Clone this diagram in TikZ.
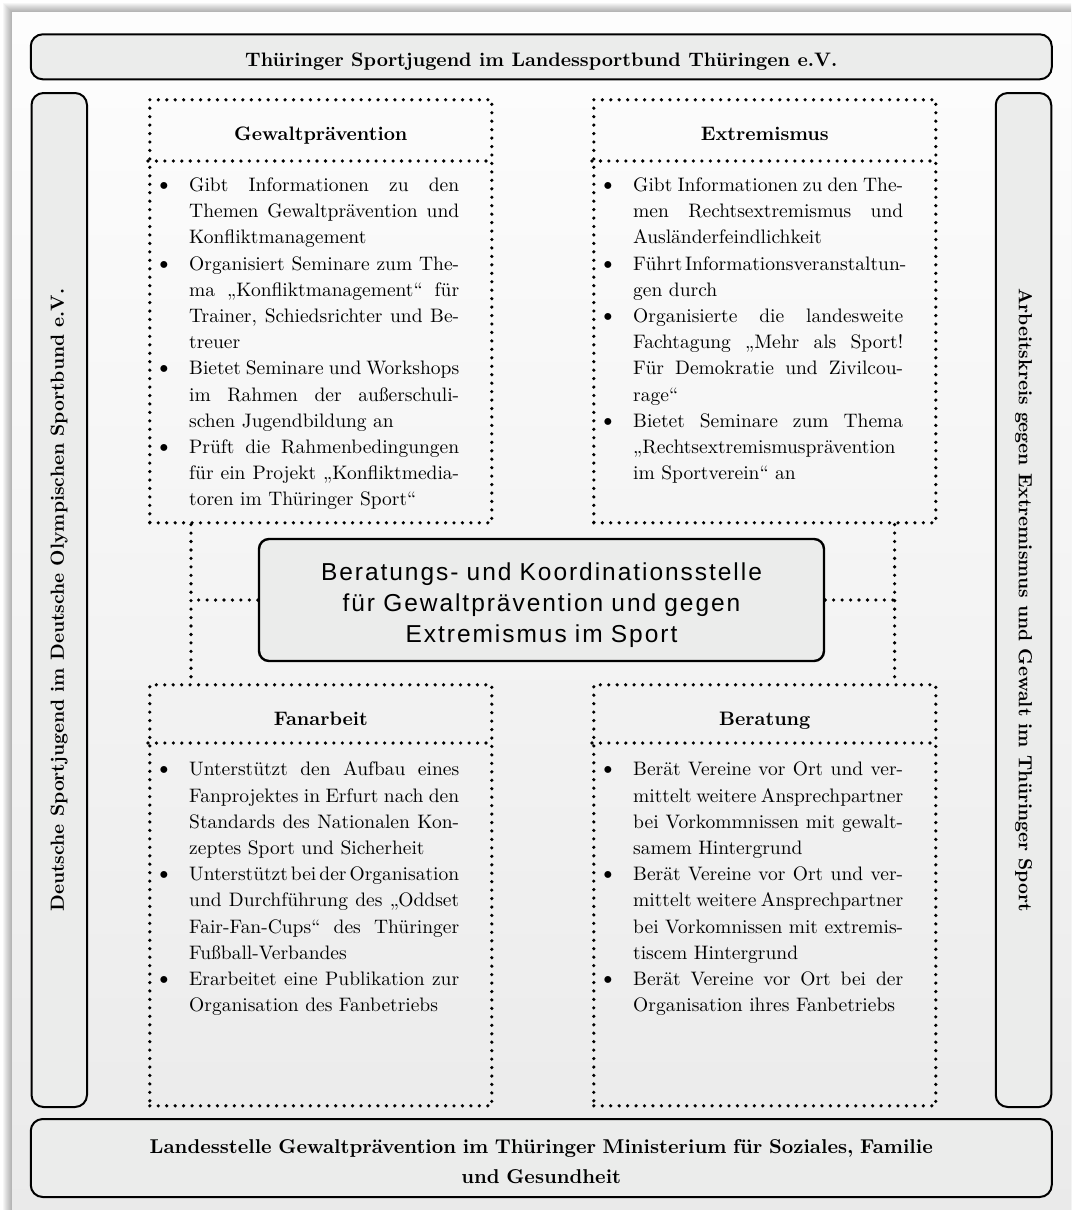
\documentclass[tikz,border=0pt]{standalone}
\usepackage{fontspec}
\setmainfont{lmroman10-regular.otf}[BoldFont=lmroman10-bold.otf, ItalicFont=lmroman10-italic.otf]
\newfontfamily\cboxfont[LetterSpace=8]{Liberation Sans}
\usetikzlibrary{calc}
\definecolor{boxfill}{RGB}{235,236,235}
\definecolor{paneltop}{RGB}{253,253,253}
\definecolor{panelbot}{RGB}{234,234,234}
\newcommand\jbox[1]{\hbox to 270pt{\spaceskip=.3333em plus 1fil minus .2em\relax #1}}
\newcommand\lnJ[1]{\noindent\strut\jbox{#1}\par}
\newcommand\lnL[1]{\noindent\strut\hbox to 270pt{#1\hfil}\par}
\newcommand\lnB[1]{\noindent\strut\makebox[0pt][r]{{\fontsize{24}{24}\selectfont\textbullet}\hspace{16pt}}\jbox{#1}\par}
\tikzset{
  bar/.style={draw, line width=2pt, rounded corners=12pt, fill=boxfill, inner sep=0pt},
  bartext/.style={font=\fontsize{19.5}{30}\selectfont\bfseries, inner sep=0pt},
  sidetext/.style={font=\fontsize{19}{23}\selectfont\bfseries, inner sep=0pt},
  dotline/.style={line width=3.6pt, dash pattern=on 0pt off 8.45pt, line cap=round},
  dotbox/.style={dotline, draw, inner sep=0pt, minimum width=342pt, anchor=north west},
  boxtitle/.style={font=\fontsize{19.5}{23}\selectfont\bfseries, inner sep=0pt, anchor=base},
  bodytext/.style={font=\fontsize{19.5}{26.2}\selectfont, text width=270pt, inner sep=0pt, anchor=north west},
  cbox/.style={draw, line width=2.4pt, rounded corners=10pt, fill=boxfill, minimum width=565pt, minimum height=122pt, inner sep=0pt},
  cboxtext/.style={font=\cboxfont\fontsize{24.5}{31}\selectfont, text width=560pt, align=center, inner sep=0pt, anchor=north}
}
\begin{document}
\begin{tikzpicture}[x=1pt,y=-1pt]
\clip (0,0) rectangle (1071,1210);
\fill[white] (0,0) rectangle (1071,1210);
\foreach \i in {1,...,9}{\fill[black,opacity=0.035] ({12-\i},{12-\i}) rectangle (1080,1220);}
\shade[top color=paneltop,bottom color=panelbot] (12,12) rectangle (1080,1220);

% outer bars
\node[bar, minimum width=1021pt, minimum height=45pt] (tbar) at (541.25,56.8) {};
\node[bartext, anchor=base] (tbart) at (541.25,66.7) {Thüringer Sportjugend im Landessportbund Thüringen e.V.};
\node[bar, minimum width=55.5pt, minimum height=1014pt] (lbar) at (59.25,600) {};
\node[sidetext, rotate=90] (lbart) at (lbar.center) {Deutsche Sportjugend im Deutsche Olympischen Sportbund e.V.};
\node[bar, minimum width=55.5pt, minimum height=1014pt] (rbar) at (1023.5,600) {};
\node[sidetext, rotate=-90] (rbart) at (rbar.center) {Arbeitskreis gegen Extremismus und Gewalt im Thüringer Sport};
\node[bar, minimum width=1021pt, minimum height=78pt] (bbar) at (541.25,1158) {};
\node[bartext, font=\fontsize{20}{30}\selectfont\bfseries, text width=1000pt, align=center, anchor=north] (bbart) at (541.25,1132.5) {\strut Landesstelle Gewaltprävention im Thüringer Ministerium für Soziales, Familie\\\strut und Gesundheit};

% dotted boxes
\node[dotbox, minimum height=423pt] (gew) at (148,98) {};
\node[dotbox, minimum height=423pt] (ext) at (592,98) {};
\node[dotbox, minimum height=421pt] (fan) at (148,683) {};
\node[dotbox, minimum height=421pt] (ber) at (592,683) {};
\draw[dotline] ($(gew.north west)+(0,63)$) -- ($(gew.north east)+(0,63)$);
\draw[dotline] ($(ext.north west)+(0,63)$) -- ($(ext.north east)+(0,63)$);
\draw[dotline] ($(fan.north west)+(0,60)$) -- ($(fan.north east)+(0,60)$);
\draw[dotline] ($(ber.north west)+(0,60)$) -- ($(ber.north east)+(0,60)$);

\node[boxtitle] (gewt) at ($(gew.north)+(0,42)$) {Gewaltprävention};
\node[boxtitle] (extt) at ($(ext.north)+(0,42)$) {Extremismus};
\node[boxtitle] (fant) at ($(fan.north)+(0,42)$) {Fanarbeit};
\node[boxtitle] (bert) at ($(ber.north)+(0,42)$) {Beratung};

\node[bodytext] (gewb) at ($(gew.north west)+(41,74.9)$) {%
\lnB{Gibt Informationen zu den}
\lnJ{Themen Gewaltprävention und}
\lnL{Konfliktmanagement}
\lnB{Organisiert Seminare zum The-}
\lnJ{ma „Konfliktmanagement“ für}
\lnJ{Trainer, Schiedsrichter und Be-}
\lnL{treuer}
\lnB{Bietet Seminare und Workshops}
\lnJ{im Rahmen der außerschuli-}
\lnL{schen Jugendbildung an}
\lnB{Prüft die Rahmenbedingungen}
\lnJ{für ein Projekt „Konfliktmedia-}
\lnL{toren im Thüringer Sport“}};

\node[bodytext] (extb) at ($(ext.north west)+(41,74.9)$) {%
\lnB{Gibt Informationen zu den The-}
\lnJ{men Rechtsextremismus und}
\lnL{Ausländerfeindlichkeit}
\lnB{Führt Informationsveranstaltun-}
\lnL{gen durch}
\lnB{Organisierte die landesweite}
\lnJ{Fachtagung „Mehr als Sport!}
\lnJ{Für Demokratie und Zivilcou-}
\lnL{rage“}
\lnB{Bietet Seminare zum Thema}
\lnJ{„Rechtsextremismusprävention}
\lnL{im Sportverein“ an}};

\node[bodytext] (fanb) at ($(fan.north west)+(41,74.4)$) {%
\lnB{Unterstützt den Aufbau eines}
\lnJ{Fanprojektes in Erfurt nach den}
\lnJ{Standards des Nationalen Kon-}
\lnL{zeptes Sport und Sicherheit}
\lnB{Unterstützt bei der Organisation}
\lnJ{und Durchführung des „Oddset}
\lnJ{Fair-Fan-Cups“ des Thüringer}
\lnL{Fußball-Verbandes}
\lnB{Erarbeitet eine Publikation zur}
\lnL{Organisation des Fanbetriebs}};

\node[bodytext] (berb) at ($(ber.north west)+(41,74.4)$) {%
\lnB{Berät Vereine vor Ort und ver-}
\lnJ{mittelt weitere Ansprechpartner}
\lnJ{bei Vorkommnissen mit gewalt-}
\lnL{samem Hintergrund}
\lnB{Berät Vereine vor Ort und ver-}
\lnJ{mittelt weitere Ansprechpartner}
\lnJ{bei Vorkomnissen mit extremis-}
\lnL{tiscem Hintergrund}
\lnB{Berät Vereine vor Ort bei der}
\lnL{Organisation ihres Fanbetriebs}};

% connectors
\coordinate (lj1) at ($(gew.south west)+(43,0)$);
\coordinate (lj2) at ($(fan.north west)+(43,0)$);
\coordinate (rj1) at ($(ext.south east)+(-43,0)$);
\coordinate (rj2) at ($(ber.north east)+(-43,0)$);
\draw[dotline] (lj1) -- (lj2);
\draw[dotline] (rj1) -- (rj2);
\node[cbox] (cb) at (541.5,600) {};
\draw[dotline] (cb.west) -- (cb.west -| lj1);
\draw[dotline] (cb.east) -- (cb.east -| rj1);
\node[cboxtext] (cbt) at (541.5,558.3) {\strut Beratungs- und Koordinationsstelle\\\strut für Gewaltprävention und gegen\\\strut Extremismus im Sport};
\end{tikzpicture}
\end{document}
